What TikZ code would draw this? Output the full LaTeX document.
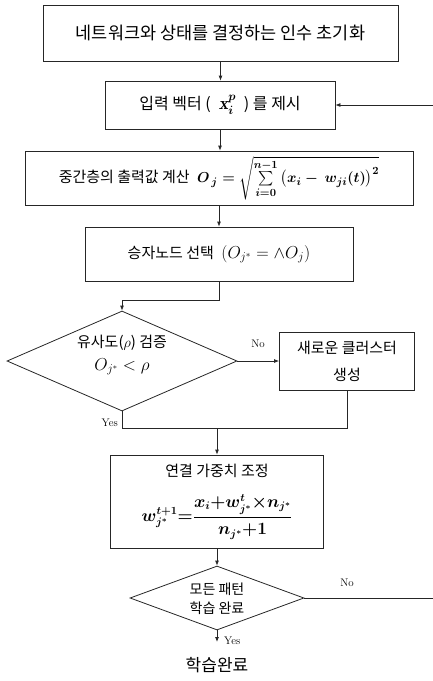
\documentclass[tikz,border=0pt]{standalone}
\usepackage{amsmath}
\usepackage{fontspec}
\newfontfamily\kr{Noto Sans CJK KR}
\usetikzlibrary{arrows.meta,shapes.geometric}
\begin{document}
\begin{tikzpicture}[x=1pt,y=-1pt,
  box/.style={draw=black!85, line width=0.8pt, rectangle, inner sep=0pt, align=center,
              font=\kr\fontsize{16}{20}\selectfont},
  dia/.style={draw=black!85, line width=0.8pt, diamond, inner sep=0pt},
  txt/.style={inner sep=0pt, align=center, font=\kr\fontsize{15}{23}\selectfont},
  conn/.style={draw=black!85, line width=0.8pt},
  arr/.style={conn, -{Latex[length=5pt,width=4pt]}},
  lab/.style={inner sep=0pt, font=\fontsize{11}{13}\selectfont}]
\useasboundingbox (0,0) rectangle (433,681);

% boxes
\node[box, minimum width=355pt, minimum height=56pt, font=\kr\fontsize{17.5}{20}\selectfont] (b1) at (220.5,33) {네트워크와 상태를 결정하는 인수 초기화};
\node[box, minimum width=230pt, minimum height=48pt] (b2) at (220,105) {입력 벡터 (\enspace{\fontsize{18}{20}\selectfont\boldmath$\mathit{x}_{i}^{p}$}\enspace) 를 제시};
\node[box, minimum width=388pt, minimum height=54pt, font=\kr\fontsize{15}{20}\selectfont] (b3) at (219,178) {중간층의 출력값 계산\enspace {\fontsize{15}{17}\selectfont\boldmath$O_{\,j} = \sqrt{\sum\limits_{i=0}^{n-1}\,\bigl(x_{i}-\,w_{ji}(t)\bigr)^{2}}$}};
\node[box, minimum width=268pt, minimum height=54pt, font=\kr\fontsize{15}{20}\selectfont] (b4) at (219,254) {승자노드 선택\enspace {\fontsize{18}{20}\selectfont$\left(O_{j^{*}} = \wedge O_{j}\right)$}};
\node[dia, minimum width=230pt, minimum height=100pt] (d1) at (122,361) {};
\node[txt] (t1) at (122,355) {유사도($\rho$) 검증\\ {\fontsize{17}{20}\selectfont$O_{j^{*}} < \rho$}};
\node[box, minimum width=135pt, minimum height=58pt, font=\kr\fontsize{15}{27}\selectfont] (b6) at (347,361) {새로운 클러스터\\ 생성};
\node[box, minimum width=213pt, minimum height=93pt, font=\kr\fontsize{15}{20}\selectfont] (b5) at (217,501.5) {연결 가중치 조정\\[16pt] {\fontsize{16}{18}\selectfont\boldmath$w_{j^{*}}^{t+1}{=}\dfrac{x_{i}{+}w_{j^{*}}^{t}{\times}n_{j^{*}}}{n_{j^{*}}{+}1}$}};
\node[dia, minimum width=174pt, minimum height=64pt] (d2) at (217,598) {};
\node[txt, font=\kr\fontsize{14}{19}\selectfont] (t2) at (217,599) {모든 패턴\\ 학습 완료};
\node[txt, font=\kr\fontsize{17}{20}\selectfont] (end) at (217,665) {학습완료};

% free ends and junctions
\coordinate (fb) at (433,105);
\coordinate (nr) at (433,598);
\coordinate (yl) at (0,428);
\coordinate (ye) at (217,642);

% connectors
\draw[arr] (b1.south) -- (b1.south |- b2.north);
\draw[arr] (b2.south) -- (b2.south |- b3.north);
\draw[arr] (b3.south) -- (b3.south |- b4.north);
\draw[arr] (b4.south) -- ++(0,19) -| (d1.north);
\draw[arr] (d1.east) -- (b6.west);
\draw[conn] (d1.south) |- (b6.south |- yl) -- (b6.south);
\draw[arr] (b5.north |- yl) -- (b5.north);
\draw[arr] (b5.south) -- (d2.north);
\draw[conn] (d2.east) -- (nr);
\draw[arr] (fb) -- (b2.east);
\draw[arr] (d2.south) -- (ye);

% labels
\node[lab] (no1) at (258,344) {No};
\node[lab, anchor=east] (yes1) at (118,423) {Yes};
\node[lab] (no2) at (347,583) {No};
\node[lab, anchor=west] (yes2) at (224,641) {Yes};
\end{tikzpicture}
\end{document}
